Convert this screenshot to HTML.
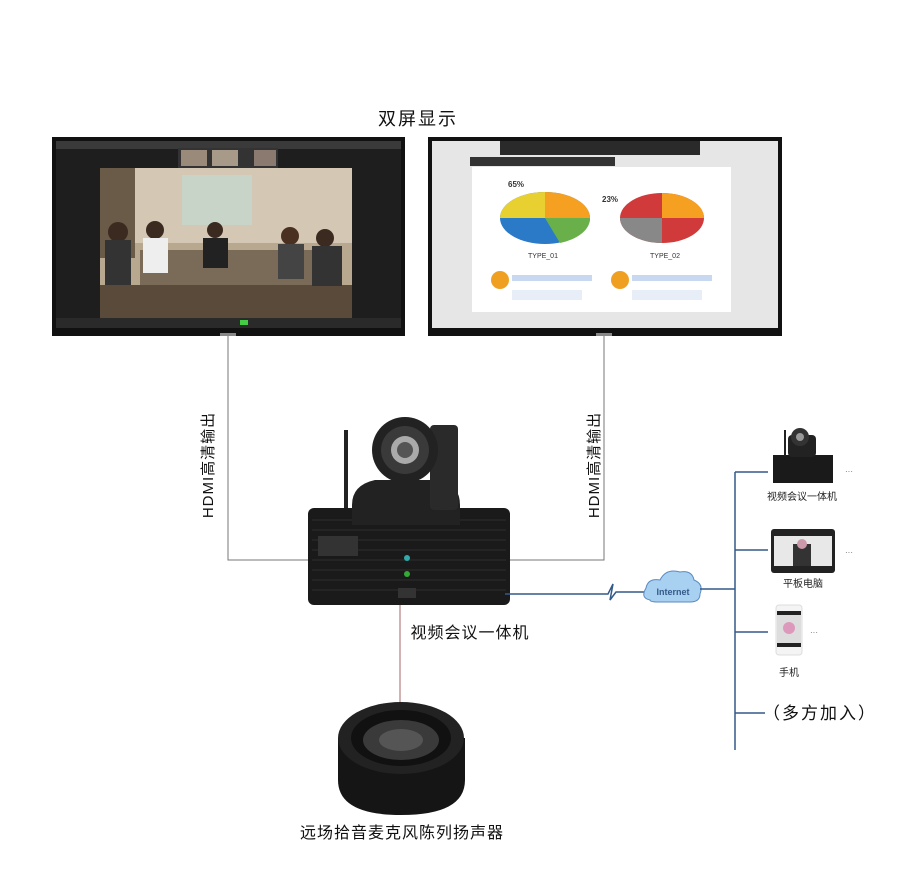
<!DOCTYPE html>
<html><head><meta charset="utf-8"><style>
html,body{margin:0;padding:0;background:#fff;}
svg text{font-family:"Liberation Sans","Noto Sans CJK SC",sans-serif;}
</style></head><body>
<svg width="920" height="876" viewBox="0 0 920 876" xmlns="http://www.w3.org/2000/svg">
<rect width="920" height="876" fill="#fff"/>
<text x="418" y="125" font-size="18" text-anchor="middle" fill="#111" letter-spacing="2">双屏显示</text>

<!-- left monitor -->
<rect x="52" y="137" width="353" height="199" fill="#111"/>
<rect x="56" y="141" width="345" height="187" fill="#1e1e1e"/>
<rect x="56" y="141" width="345" height="8" fill="#3a3a3a"/>
<rect x="178" y="148" width="100" height="20" fill="#333"/>
<rect x="181" y="150" width="26" height="16" fill="#9a8a7a"/>
<rect x="212" y="150" width="26" height="16" fill="#a89a88"/>
<rect x="254" y="150" width="22" height="16" fill="#8a7a70"/>
<rect x="100" y="168" width="252" height="150" fill="#b8a890"/>
<rect x="100" y="168" width="252" height="75" fill="#d4c8b4"/>
<rect x="182" y="175" width="70" height="50" fill="#c8d4c8"/>
<rect x="100" y="168" width="35" height="90" fill="#6a5a48"/>
<rect x="140" y="250" width="180" height="40" fill="#7a6a58"/>
<rect x="100" y="285" width="252" height="33" fill="#5a4a3a"/>
<circle cx="118" cy="232" r="10" fill="#3a2a20"/><rect x="105" y="240" width="26" height="45" fill="#333"/>
<circle cx="155" cy="230" r="9" fill="#3a2a20"/><rect x="143" y="238" width="25" height="35" fill="#eee"/>
<circle cx="215" cy="230" r="8" fill="#3a2a20"/><rect x="203" y="238" width="25" height="30" fill="#222"/>
<circle cx="290" cy="236" r="9" fill="#4a3020"/><rect x="278" y="244" width="26" height="35" fill="#444"/>
<circle cx="325" cy="238" r="9" fill="#3a2a20"/><rect x="312" y="246" width="30" height="40" fill="#333"/>
<rect x="56" y="318" width="345" height="10" fill="#2a2a2a"/>
<rect x="240" y="320" width="8" height="5" fill="#4c4"/>
<rect x="220" y="333" width="16" height="3" fill="#888"/>

<!-- right monitor -->
<rect x="428" y="137" width="354" height="199" fill="#111"/>
<rect x="432" y="141" width="346" height="187" fill="#e6e6e6"/>
<rect x="500" y="141" width="200" height="14" fill="#2a2a2a"/>
<rect x="470" y="157" width="145" height="9" fill="#333"/>
<rect x="472" y="167" width="259" height="145" fill="#fff"/>
<ellipse cx="545" cy="218" rx="45" ry="26" fill="#2a7ac8"/>
<path d="M545 218 L545 192 A45 26 0 0 1 590 218 Z" fill="#f5a020"/>
<path d="M545 218 L590 218 A45 26 0 0 1 560 243 Z" fill="#6ab04a"/>
<path d="M545 218 L500 218 A45 26 0 0 1 545 192 Z" fill="#e8d030"/>
<ellipse cx="662" cy="218" rx="42" ry="25" fill="#d03a3a"/>
<path d="M662 218 L662 193 A42 25 0 0 1 704 218 Z" fill="#f5a020"/>
<path d="M662 218 L620 218 A42 25 0 0 0 662 243 Z" fill="#888"/>
<text x="508" y="187" font-size="8" font-weight="bold" fill="#333">65%</text>
<text x="602" y="202" font-size="8" font-weight="bold" fill="#333">23%</text>
<text x="528" y="258" font-size="7" fill="#333">TYPE_01</text>
<text x="650" y="258" font-size="7" fill="#333">TYPE_02</text>
<circle cx="500" cy="280" r="9" fill="#f0a020"/>
<circle cx="620" cy="280" r="9" fill="#f0a020"/>
<rect x="512" y="275" width="80" height="6" fill="#c8d8f0"/>
<rect x="632" y="275" width="80" height="6" fill="#c8d8f0"/>
<rect x="512" y="290" width="70" height="10" fill="#e8eef8"/>
<rect x="632" y="290" width="70" height="10" fill="#e8eef8"/>
<rect x="596" y="333" width="16" height="3" fill="#888"/>

<!-- HDMI lines -->
<polyline points="228,336 228,560 310,560" fill="none" stroke="#777" stroke-width="1"/>
<polyline points="604,336 604,560 505,560" fill="none" stroke="#777" stroke-width="1"/>
<text transform="translate(213,465) rotate(-90)" font-size="15" text-anchor="middle" fill="#111" letter-spacing="1">HDMI高清输出</text>
<text transform="translate(599,465) rotate(-90)" font-size="15" text-anchor="middle" fill="#111" letter-spacing="1">HDMI高清输出</text>

<!-- main device -->
<rect x="344" y="430" width="4" height="85" fill="#222"/>
<rect x="308" y="508" width="202" height="97" rx="6" fill="#1a1a1a"/>
<g stroke="#2e2e2e" stroke-width="1">
<line x1="312" y1="520" x2="506" y2="520"/><line x1="312" y1="530" x2="506" y2="530"/><line x1="312" y1="540" x2="506" y2="540"/>
<line x1="312" y1="550" x2="506" y2="550"/><line x1="312" y1="560" x2="506" y2="560"/><line x1="312" y1="570" x2="506" y2="570"/>
<line x1="312" y1="580" x2="506" y2="580"/><line x1="312" y1="590" x2="506" y2="590"/></g>
<rect x="318" y="536" width="40" height="20" fill="#333"/>
<circle cx="407" cy="558" r="3" fill="#3aa"/>
<circle cx="407" cy="574" r="3" fill="#3a3"/>
<rect x="398" y="588" width="18" height="10" fill="#333"/>
<path d="M352 505 Q352 485 375 480 L440 480 Q460 485 460 505 L460 525 L352 525 Z" fill="#222"/>
<rect x="430" y="425" width="28" height="85" rx="4" fill="#2a2a2a"/>
<circle cx="405" cy="450" r="33" fill="#222"/>
<circle cx="405" cy="450" r="24" fill="#3a3a3a"/>
<circle cx="405" cy="450" r="14" fill="#aaa"/>
<circle cx="405" cy="450" r="8" fill="#555"/>
<text x="470" y="638" font-size="16" text-anchor="middle" fill="#111" letter-spacing="1">视频会议一体机</text>

<!-- speaker -->
<line x1="400" y1="605" x2="400" y2="703" stroke="#a66" stroke-width="1"/>
<path d="M338 738 L338 780 Q338 815 401 815 Q465 815 465 780 L465 738 Z" fill="#151515"/>
<ellipse cx="401" cy="738" rx="63" ry="36" fill="#222"/>
<ellipse cx="401" cy="738" rx="50" ry="28" fill="#111"/>
<ellipse cx="401" cy="740" rx="38" ry="20" fill="#3a3a3a"/>
<ellipse cx="401" cy="740" rx="22" ry="11" fill="#555"/>
<text x="402" y="838" font-size="16" text-anchor="middle" fill="#111" letter-spacing="1">远场拾音麦克风陈列扬声器</text>

<!-- internet -->
<polyline points="505,594 608,594 613,584 610,600 616,592 645,592" fill="none" stroke="#345a8a" stroke-width="1.5"/>
<path d="M650 600 Q640 598 646 588 Q648 578 660 580 Q666 568 680 572 Q692 570 694 580 Q704 584 700 594 Q700 602 690 602 L658 602 Q650 602 650 600 Z" fill="#a8d0f0" stroke="#5a8ac0"/>
<text x="673" y="595" font-size="9" font-weight="bold" text-anchor="middle" fill="#345a8a">Internet</text>
<line x1="700" y1="589" x2="735" y2="589" stroke="#345a8a" stroke-width="1.5"/>
<line x1="735" y1="472" x2="735" y2="750" stroke="#345a8a" stroke-width="1.5"/>
<g stroke="#345a8a" stroke-width="1.5">
<line x1="735" y1="472" x2="768" y2="472"/><line x1="735" y1="550" x2="768" y2="550"/>
<line x1="735" y1="632" x2="768" y2="632"/><line x1="735" y1="713" x2="765" y2="713"/></g>

<!-- right items -->
<rect x="773" y="455" width="60" height="28" fill="#1a1a1a"/>
<rect x="788" y="435" width="28" height="22" rx="4" fill="#222"/>
<circle cx="800" cy="437" r="9" fill="#333"/><circle cx="800" cy="437" r="4" fill="#999"/>
<rect x="784" y="430" width="2" height="26" fill="#222"/>
<text x="845" y="474" font-size="8" fill="#666">···</text>
<text x="802" y="500" font-size="10" text-anchor="middle" fill="#222">视频会议一体机</text>
<rect x="771" y="529" width="64" height="44" rx="3" fill="#222"/>
<rect x="774" y="536" width="58" height="30" fill="#e8e8e8"/>
<rect x="793" y="544" width="18" height="22" fill="#333"/><circle cx="802" cy="544" r="5" fill="#c9a"/>
<text x="845" y="555" font-size="8" fill="#666">···</text>
<text x="803" y="587" font-size="10" text-anchor="middle" fill="#222">平板电脑</text>
<rect x="776" y="605" width="26" height="50" rx="3" fill="#f4f4f4" stroke="#ddd"/>
<rect x="777" y="611" width="24" height="36" fill="#222"/>
<rect x="777" y="615" width="24" height="28" fill="#ddd"/><circle cx="789" cy="628" r="6" fill="#d9b"/>
<text x="810" y="635" font-size="8" fill="#666">···</text>
<text x="789" y="676" font-size="10" text-anchor="middle" fill="#222">手机</text>
<text x="820" y="719" font-size="17" text-anchor="middle" fill="#111" letter-spacing="2">（多方加入）</text>
</svg>
</body></html>
